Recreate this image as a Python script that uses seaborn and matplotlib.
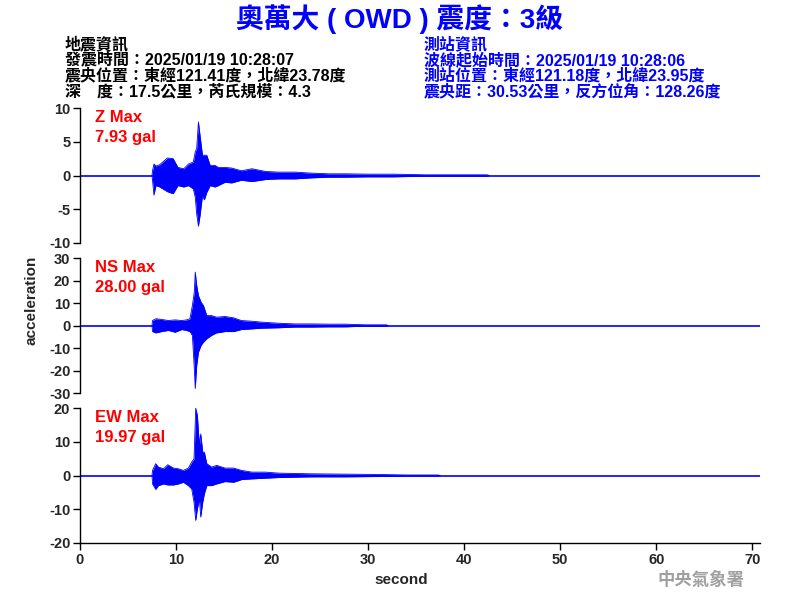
import pandas as pd
import matplotlib
matplotlib.use("Agg")
import matplotlib.pyplot as plt
import seaborn as sns

# Envelope of each trace (gal) at uneven time knots (s)
z_time = [7.50, 7.55, 7.7, 7.9, 8.3, 9.1, 9.7, 10.2, 10.8, 11.3,
          11.8, 12.0, 12.15, 12.33, 12.5, 12.75, 12.95, 13.2, 13.55, 14.05,
          14.4, 15.1, 15.8, 16.8, 17.9, 19.3, 20.7, 22.4, 24.1, 25.9,
          27.6, 30.0, 32.6, 36.0, 42.4, 42.6]
z_upper = [0, 0.7, 1.7, 1.4, 1.6, 2.6, 2.5, 1.2, 1.0, 1.7,
           2.0, 3.5, 4.0, 7.93, 5.9, 3.0, 3.0, 3.0, 1.5, 1.5,
           1.2, 1.2, 1.1, 0.7, 1.0, 0.6, 0.5, 0.5, 0.35, 0.25,
           0.25, 0.2, 0.2, 0.1, 0.1, 0]
z_lower = [0, -0.7, -2.9, -1.5, -1.7, -2.4, -2.7, -1.5, -1.7, -1.5,
           -2.0, -3.2, -5.7, -7.5, -5.9, -3.0, -3.6, -2.5, -1.5, -1.7,
           -1.5, -1.0, -1.1, -0.7, -0.9, -0.6, -0.5, -0.5, -0.35, -0.25,
           -0.25, -0.2, -0.2, -0.1, -0.1, 0]

ns_time = [7.5, 7.55, 7.9, 8.5, 9.2, 9.9, 10.6, 11.1, 11.45, 11.7,
           11.9, 12.0, 12.15, 12.33, 12.6, 12.85, 13.2, 13.7, 14.2, 15.1,
           16.0, 16.8, 17.9, 18.9, 20.7, 22.4, 24.1, 25.9, 27.6, 29.7,
           31.9, 32.1]
ns_upper = [0, 2.2, 3.0, 2.7, 2.2, 2.5, 2.2, 2.5, 3.0, 8.9,
            14.8, 23.7, 17.8, 13.3, 10.4, 8.9, 4.4, 4.4, 3.7, 4.0,
            3.4, 2.2, 1.9, 1.5, 1.0, 0.7, 0.7, 0.6, 0.6, 0.3,
            0.3, 0]
ns_lower = [0, -2.7, -3.3, -2.7, -2.2, -3.0, -1.8, -2.2, -2.7, -4.4,
            -19.0, -28.0, -17.8, -11.9, -8.9, -7.4, -5.9, -4.4, -3.3, -2.7,
            -2.7, -1.8, -1.5, -1.2, -1.0, -0.7, -0.7, -0.6, -0.6, -0.3,
            -0.3, 0]

ew_time = [7.5, 7.55, 7.88, 8.16, 8.7, 9.13, 9.73, 10.24, 10.76, 11.28,
           11.63, 11.87, 12.05, 12.22, 12.43, 12.57, 12.78, 12.95, 13.2, 13.7,
           14.23, 15.1, 16.0, 16.84, 17.9, 19.3, 20.7, 22.4, 24.1, 27.6,
           31.2, 34.0, 37.3, 37.5]
ew_upper = [0, 1.5, 3.5, 2.5, 2.0, 3.2, 2.2, 2.0, 1.5, 2.2,
            4.0, 4.9, 19.97, 17.8, 8.9, 12.3, 6.9, 6.9, 3.5, 2.5,
            3.0, 2.2, 2.2, 1.5, 1.0, 1.0, 0.7, 0.6, 0.5, 0.4,
            0.3, 0.15, 0.15, 0]
ew_lower = [0, -2.5, -4.1, -3.0, -2.5, -2.8, -2.8, -2.5, -2.0, -3.0,
            -4.0, -7.9, -13.3, -9.9, -6.9, -12.3, -7.9, -5.4, -3.0, -3.0,
            -2.5, -1.8, -2.0, -1.2, -1.0, -0.8, -0.6, -0.5, -0.4, -0.4,
            -0.3, -0.15, -0.15, 0]

channels = ["Z", "NS", "EW"]
max_pga = ["7.93", "28.00", "19.97"]
y_limits = [10, 30, 20]
y_steps = [5, 10, 10]

title = "奧萬大 ( OWD ) 震度：3級"
quake_info = ["地震資訊",
              "發震時間：2025/01/19 10:28:07",
              "震央位置：東經121.41度，北緯23.78度",
              "深　度：17.5公里，芮氏規模：4.3"]
station_info = ["測站資訊",
                "波線起始時間：2025/01/19 10:28:06",
                "測站位置：東經121.18度，北緯23.95度",
                "震央距：30.53公里，反方位角：128.26度"]

traces = {"Z": (z_time, z_upper, z_lower),
          "NS": (ns_time, ns_upper, ns_lower),
          "EW": (ew_time, ew_upper, ew_lower)}

rows = []
for ch, (t, up, lo) in traces.items():
    for ti, u, l in zip(t, up, lo):
        rows.append({"channel": ch, "time": ti, "bound": "upper", "value": u})
        rows.append({"channel": ch, "time": ti, "bound": "lower", "value": l})
df = pd.DataFrame(rows)

sns.set_style("ticks")
FONTS = ["Liberation Sans", "Noto Sans CJK TC", "DejaVu Sans"]
plt.rcParams["font.family"] = FONTS
plt.rcParams["font.weight"] = "bold"
plt.rcParams["axes.unicode_minus"] = False

BLUE = "#0000ff"

fig = plt.figure(figsize=(8, 6), dpi=100)
# axes boxes in figure fractions (left, bottom, width, height)
boxes = [(0.1, 0.595, 0.85, 0.225),
         (0.1, 0.345, 0.85, 0.225),
         (0.1, 0.095, 0.85, 0.225)]

for i, ch in enumerate(channels):
    ax = fig.add_axes(boxes[i])
    t, up, lo = traces[ch]
    ax.axhline(0, color=BLUE, lw=1.2, zorder=1)
    ax.fill_between(t, lo, up, color=BLUE, lw=0, zorder=2)
    sub = df[df["channel"] == ch]
    sns.lineplot(data=sub, x="time", y="value", units="bound", estimator=None,
                 color=BLUE, lw=0.6, ax=ax, zorder=3)

    lim = y_limits[i]
    ax.set_xlim(0, 70.8)
    ax.set_ylim(-lim, lim)
    ax.set_yticks(range(-lim, lim + 1, y_steps[i]))
    ax.set_xlabel("")
    ax.set_ylabel("")
    ax.tick_params(axis="both", direction="out", length=5, width=1,
                   color="black", labelsize=10.5, pad=2)
    for lab in ax.get_yticklabels() + ax.get_xticklabels():
        lab.set_fontweight("bold")

    sns.despine(ax=ax, top=True, right=True, bottom=(i < 2))
    for sp in ax.spines.values():
        sp.set_linewidth(1)
        sp.set_color("black")
    if i < 2:
        ax.set_xticks([])
    else:
        ax.set_xticks(range(0, 71, 10))

    ax.text(0.022, 0.926, f"{ch} Max", transform=ax.transAxes, color="red",
            fontsize=12, fontweight="bold", va="center", ha="left")
    ax.text(0.022, 0.778, f"{max_pga[i]} gal", transform=ax.transAxes,
            color="red", fontsize=12, fontweight="bold", va="center", ha="left")

fig.text(0.5, 0.968, title, ha="center", va="center", color=BLUE,
         fontsize=20, fontweight="bold")

for k, line in enumerate(quake_info):
    fig.text(65 / 800, 1 - (44 + 16 * k) / 600, line, ha="left", va="center",
             color="black", fontsize=11.5, fontweight="bold")
for k, line in enumerate(station_info):
    fig.text(424 / 800, 1 - (44 + 16 * k) / 600, line, ha="left", va="center",
             color=BLUE, fontsize=11.5, fontweight="bold")

fig.text(32 / 800, 0.5, "acceleration", rotation=90, ha="center", va="center",
         fontsize=11, fontweight="bold")
fig.text(401 / 800, 1 - 580 / 600, "second", ha="center", va="center",
         fontsize=11, fontweight="bold")
fig.text(701 / 800, 1 - 580 / 600, "中央氣象署", ha="center", va="center",
         color="#a0a0a0", fontsize=12.5, fontweight="bold",
         family=["Noto Sans CJK TC"])

fig.savefig("out.png", dpi=100)
